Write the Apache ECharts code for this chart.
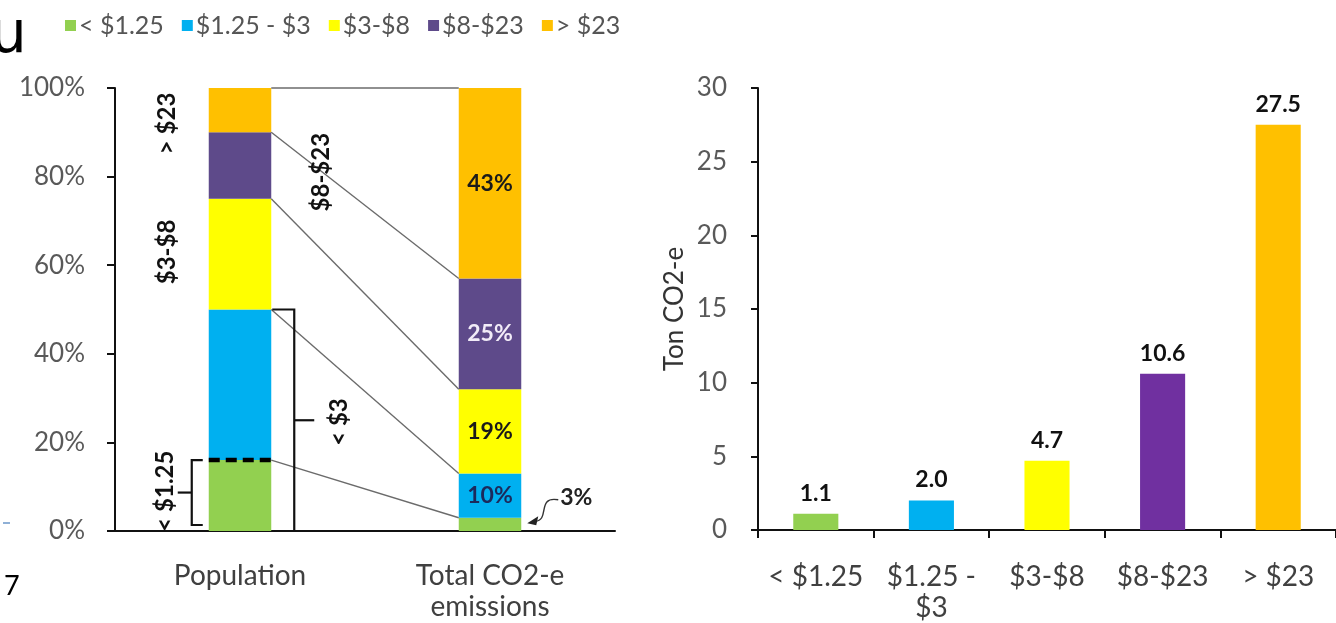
<!DOCTYPE html>
<html>
<head>
<meta charset="utf-8">
<script src="https://cdn.jsdelivr.net/npm/echarts@6/dist/echarts.min.js"></script>
<style>
  html, body { margin: 0; padding: 0; background: #fff; }
  #chart { width: 1336px; height: 623px; }
</style>
</head>
<body>
<div id="chart"></div>
<script>
// Income groups (daily income per person) and their shares
const incomeGroups = ['< $1.25', '$1.25 - $3', '$3-$8', '$8-$23', '> $23'];
const shareCategories = ['Population', 'Total CO2-e\nemissions'];
const populationShare = [16, 34, 25, 15, 10];   // % of population
const emissionShare = [3, 10, 19, 25, 43];      // % of total CO2-e emissions

// Per-capita emissions by group
const perCapitaLabels = ['< $1.25', '$1.25 -\n$3', '$3-$8', '$8-$23', '> $23'];
const perCapitaTons = [1.1, 2.0, 4.7, 10.6, 27.5];

// Axis ranges
const shareAxis = { min: 0, max: 100, interval: 20 };
const tonAxis = { min: 0, max: 30, interval: 5 };

// Palette
const groupColors = ['#92D050', '#00B0F0', '#FFFF00', '#5E4A8A', '#FFC000'];
const tonColors = ['#92D050', '#00B0F0', '#FFFF00', '#7030A0', '#FFC000'];
const shareLabelColors = ['#111', '#1b2a5c', '#1a1a1a', '#f2ecf8', '#1a1a1a'];

const FONT = 'Lato';
const BAR_RATIO = 0.25;

// cumulative top of each stacked segment
function cumulative(arr) {
  let s = 0;
  return arr.map(v => (s += v));
}
const popTop = cumulative(populationShare);
const co2Top = cumulative(emissionShare);

// Lines joining matching segment tops of the two stacked bars
function renderConnector(params, api) {
  const half = api.size([1, 0])[0] * BAR_RATIO / 2;
  const a = api.coord([0, api.value(1)]);
  const b = api.coord([1, api.value(2)]);
  return {
    type: 'line',
    shape: { x1: a[0] + half, y1: a[1], x2: b[0] - half, y2: b[1] },
    style: { stroke: '#6b6b6b', lineWidth: 1.4 }
  };
}

// Brackets, rotated group names and the small-share callout
function renderNotes(params, api) {
  const bw = api.size([1, 0])[0] * BAR_RATIO;
  const popC = api.coord([0, 0])[0];
  const co2C = api.coord([1, 0])[0];
  const popL = popC - bw / 2, popR = popC + bw / 2;
  const co2R = co2C + bw / 2;
  const y = v => api.coord([0, v])[1];
  const ink = '#111';
  const kids = [];

  const vtext = (txt, x, v) => ({
    type: 'text', x: x, y: y(v), rotation: Math.PI / 2,
    style: { text: txt, fill: ink, fontSize: 24, fontWeight: 'bold', fontFamily: FONT, align: 'center', verticalAlign: 'middle' }
  });

  // dashed border between the two poorest groups
  kids.push({
    type: 'line',
    shape: { x1: popL, y1: y(popTop[0]), x2: popR, y2: y(popTop[0]) },
    style: { stroke: '#000', lineWidth: 4.5, lineDash: [11, 6] }
  });

  // "{" bracket for < $1.25
  const bx = popL - 17;
  const b1Top = y(popTop[0]), b1Bot = y(0) - 6, b1Mid = (b1Top + b1Bot) / 2;
  kids.push({
    type: 'polyline',
    shape: { points: [[bx + 11, b1Top], [bx, b1Top], [bx, b1Bot], [bx + 11, b1Bot]] },
    style: { stroke: ink, lineWidth: 2.2, fill: null }
  });
  kids.push({
    type: 'line', shape: { x1: bx, y1: b1Mid, x2: bx - 14, y2: b1Mid },
    style: { stroke: ink, lineWidth: 2.2 }
  });

  // "}" bracket for < $3
  const cx = popR + 23;
  const b2Top = y(popTop[1]), b2Bot = y(0), b2Mid = y(25);
  kids.push({
    type: 'polyline',
    shape: { points: [[popR + 1, b2Top], [cx, b2Top], [cx, b2Bot], [popR + 3, b2Bot]] },
    style: { stroke: ink, lineWidth: 2.2, fill: null }
  });
  kids.push({
    type: 'line', shape: { x1: cx, y1: b2Mid, x2: cx + 20, y2: b2Mid },
    style: { stroke: ink, lineWidth: 2.2 }
  });

  // rotated group names
  kids.push(vtext('> $23', popL - 41, 92));
  kids.push(vtext('$3-$8', popL - 41, 63));
  kids.push(vtext('< $1.25', popL - 43, 9));
  kids.push(vtext('$8-$23', popR + 50, 81));
  kids.push(vtext('< $3', popR + 68, 24.6));

  // callout for the smallest emission share
  const lx = co2R + 55, ly = y(7.5);
  kids.push({
    type: 'text', x: lx, y: ly,
    style: { text: emissionShare[0] + '%', fill: '#222', fontSize: 23, fontWeight: 'bold', fontFamily: FONT, align: 'center', verticalAlign: 'middle' }
  });
  const ex = co2R + 6, ey = y(emissionShare[0] / 2) - 2;
  kids.push({
    type: 'bezierCurve',
    shape: { x1: lx - 18, y1: ly + 2, cpx1: lx - 40, cpy1: ly - 2, cpx2: lx - 26, cpy2: ey - 2, x2: ex + 8, y2: ey - 1 },
    style: { stroke: '#333', lineWidth: 1.4, fill: null }
  });
  kids.push({
    type: 'polygon',
    shape: { points: [[ex, ey + 1], [ex + 11, ey - 6], [ex + 9, ey + 3]] },
    style: { fill: '#222' }
  });

  return { type: 'group', children: kids };
}

const axisText = { fontFamily: FONT, fontSize: 26, color: '#595959' };
const catText = { fontFamily: FONT, fontSize: 28, color: '#404040', lineHeight: 31 };
const blackLine = { color: '#111', width: 2 };

const shareSeries = incomeGroups.map((name, i) => ({
  name: name,
  type: 'bar',
  stack: 'share',
  xAxisIndex: 0,
  yAxisIndex: 0,
  barWidth: (BAR_RATIO * 100) + '%',
  data: [populationShare[i], emissionShare[i]],
  itemStyle: { color: groupColors[i] },
  label: {
    show: true,
    position: 'inside',
    fontFamily: FONT,
    fontSize: 23,
    fontWeight: 'bold',
    color: shareLabelColors[i],
    formatter: p => (p.dataIndex === 1 && i > 0) ? p.value + '%' : ''
  },
  emphasis: { disabled: true }
}));

const option = {
  animation: false,
  backgroundColor: '#fff',
  textStyle: { fontFamily: FONT },
  legend: {
    data: incomeGroups,
    left: 60,
    top: 8,
    icon: 'rect',
    itemWidth: 11,
    itemHeight: 11,
    itemGap: 18,
    selectedMode: false,
    textStyle: { fontFamily: FONT, fontSize: 25, color: '#555', padding: [0, 0, 0, -2] }
  },
  grid: [
    { left: 115, top: 88, width: 500, bottom: 92 },
    { left: 758, top: 88, right: 0, bottom: 93 }
  ],
  xAxis: [
    {
      gridIndex: 0, type: 'category', data: shareCategories,
      axisLine: { lineStyle: blackLine },
      axisTick: { show: false },
      axisLabel: Object.assign({ margin: 29, interval: 0 }, catText)
    },
    {
      gridIndex: 1, type: 'category', data: perCapitaLabels,
      axisLine: { lineStyle: blackLine },
      axisTick: { show: true, length: 8, lineStyle: blackLine },
      axisLabel: Object.assign({ margin: 31, interval: 0 }, catText)
    }
  ],
  yAxis: [
    {
      gridIndex: 0, type: 'value', min: shareAxis.min, max: shareAxis.max, interval: shareAxis.interval,
      axisLine: { show: true, lineStyle: blackLine },
      axisTick: { show: true, length: 8, lineStyle: blackLine },
      splitLine: { show: false },
      axisLabel: Object.assign({ formatter: '{value}%', margin: 30 }, axisText)
    },
    {
      gridIndex: 1, type: 'value', min: tonAxis.min, max: tonAxis.max, interval: tonAxis.interval,
      name: 'Ton CO2-e', nameLocation: 'middle', nameRotate: 90, nameGap: 70,
      nameTextStyle: { fontFamily: FONT, fontSize: 26, color: '#333' },
      axisLine: { show: true, lineStyle: blackLine },
      axisTick: { show: true, length: 7, lineStyle: blackLine },
      splitLine: { show: false },
      axisLabel: Object.assign({ margin: 31 }, axisText)
    }
  ],
  series: shareSeries.concat([
    {
      type: 'custom',
      xAxisIndex: 0, yAxisIndex: 0,
      renderItem: renderConnector,
      encode: { x: 0, y: 1 },
      data: incomeGroups.map((g, i) => [0, popTop[i], co2Top[i]]),
      z: 3,
      silent: true
    },
    {
      type: 'custom',
      xAxisIndex: 0, yAxisIndex: 0,
      renderItem: renderNotes,
      encode: { x: 0, y: 1 },
      data: [[0, 0]],
      z: 4,
      silent: true
    },
    {
      type: 'bar',
      xAxisIndex: 1, yAxisIndex: 1,
      barWidth: '39%',
      data: perCapitaTons.map((v, i) => ({ value: v, itemStyle: { color: tonColors[i] } })),
      label: {
        show: true, position: 'top', distance: 9,
        fontFamily: FONT, fontSize: 23, fontWeight: 'bold', color: '#111',
        formatter: p => p.value.toFixed(1)
      },
      emphasis: { disabled: true }
    }
  ]),
  graphic: [
    { type: 'text', left: -10, top: 8, style: { text: 'u', fontFamily: 'DejaVu Sans', fontSize: 58, fill: '#000' } },
    { type: 'text', left: 4, top: 573, style: { text: '7', fontFamily: FONT, fontSize: 27, fill: '#000' } },
    { type: 'line', shape: { x1: 3, y1: 523, x2: 10, y2: 523 }, style: { stroke: '#8fb0d6', lineWidth: 2 } }
  ]
};

const chart = echarts.init(document.getElementById('chart'), null, { renderer: 'canvas' });
chart.setOption(option);
</script>
</body>
</html>
